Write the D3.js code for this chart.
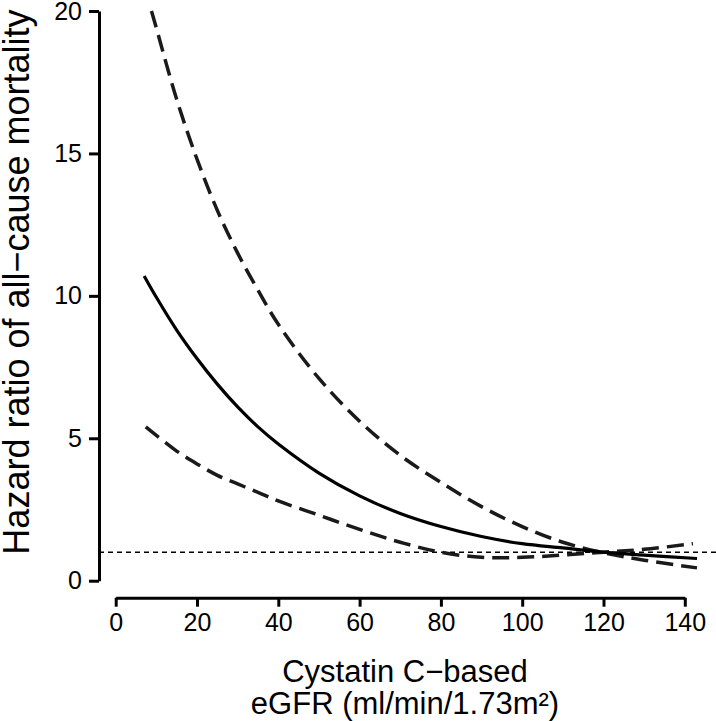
<!DOCTYPE html>
<html>
<head>
<meta charset="utf-8">
<script src="https://cdn.jsdelivr.net/npm/d3@7"></script>
<style>
  body { margin: 0; background: #fff; }
  text { font-family: "Liberation Sans", Arial, sans-serif; fill: #000; }
</style>
</head>
<body>
<div id="chart"></div>
<script>
// eGFR values (x) and hazard ratios
var hrX = [7, 10, 15, 20, 25, 30, 35, 40, 50, 60, 70, 80, 90, 100, 110, 120, 130, 143];
var hrY = [10.7, 9.95, 8.8, 7.8, 6.9, 6.1, 5.4, 4.8, 3.78, 2.98, 2.36, 1.9, 1.55, 1.3, 1.15, 1.0, 0.9, 0.78];

var upperX = [8.8, 10, 15, 20, 25, 30, 35, 40, 50, 60, 70, 80, 90, 100, 110, 120, 130, 143];
var upperY = [20, 19.4, 16.9, 14.8, 13.0, 11.5, 10.2, 9.0, 7.1, 5.6, 4.4, 3.45, 2.6, 1.9, 1.35, 0.98, 0.72, 0.45];

var lowerX = [7.4, 10, 15, 20, 25, 30, 35, 40, 50, 60, 70, 80, 90, 100, 110, 120, 130, 142];
var lowerY = [5.4, 5.1, 4.55, 4.1, 3.7, 3.4, 3.1, 2.8, 2.3, 1.8, 1.35, 1.0, 0.82, 0.82, 0.9, 1.0, 1.1, 1.3];

var xTicks = [0, 20, 40, 60, 80, 100, 120, 140];
var yTicks = [0, 5, 10, 15, 20];
var refValue = 1;

var svgWidth = 716;
var svgHeight = 721;

var svg = d3.select("#chart")
  .append("svg")
  .attr("width", svgWidth)
  .attr("height", svgHeight);

var xScale = d3.scaleLinear().domain([0, 140]).range([115.7, 684.8]);
var yScale = d3.scaleLinear().domain([0, 20]).range([580.7, 11]);

var yAxisX = 99;
var xAxisY = 597.7;

// axes
var leftAxis = d3.axisLeft(yScale)
  .tickValues(yTicks)
  .tickSizeInner(10)
  .tickSizeOuter(0)
  .tickPadding(7);

var bottomAxis = d3.axisBottom(xScale)
  .tickValues(xTicks)
  .tickSizeInner(9)
  .tickSizeOuter(0)
  .tickPadding(6.5);

var gy = svg.append("g")
  .attr("transform", `translate(${yAxisX},0)`)
  .call(leftAxis);

var gx = svg.append("g")
  .attr("transform", `translate(0,${xAxisY})`)
  .call(bottomAxis);

[gx, gy].forEach(function(g) {
  g.selectAll("path, line")
    .attr("stroke", "#000")
    .attr("stroke-width", 3);
  g.selectAll("text")
    .attr("fill", "#000")
    .style("font-size", "25px")
    .style("font-family", "'Liberation Sans', Arial, sans-serif");
});

// reference line at HR = 1
svg.append("line")
  .attr("x1", yAxisX)
  .attr("x2", svgWidth)
  .attr("y1", yScale(refValue))
  .attr("y2", yScale(refValue))
  .attr("stroke", "#000")
  .attr("stroke-width", 1.6)
  .attr("stroke-dasharray", "5,4");

var line = d3.line()
  .x(d => xScale(d[0]))
  .y(d => yScale(d[1]))
  .curve(d3.curveCatmullRom.alpha(0.5));

function pairs(xs, ys) {
  return xs.map((x, i) => [x, ys[i]]);
}

svg.append("path")
  .datum(pairs(upperX, upperY))
  .attr("d", line)
  .attr("fill", "none")
  .attr("stroke", "#1a1a1a")
  .attr("stroke-width", 3.5)
  .attr("stroke-dasharray", "17,8");

svg.append("path")
  .datum(pairs(lowerX, lowerY))
  .attr("d", line)
  .attr("fill", "none")
  .attr("stroke", "#1a1a1a")
  .attr("stroke-width", 3.5)
  .attr("stroke-dasharray", "17,8");

svg.append("path")
  .datum(pairs(hrX, hrY))
  .attr("d", line)
  .attr("fill", "none")
  .attr("stroke", "#000")
  .attr("stroke-width", 3.2);

// axis titles
svg.append("text")
  .attr("transform", "translate(29,282) rotate(-90)")
  .style("text-anchor", "middle")
  .style("font-size", "36px")
  .text("Hazard ratio of all\u2212cause mortality");

svg.append("text")
  .attr("x", 405)
  .attr("y", 682)
  .style("text-anchor", "middle")
  .style("font-size", "31px")
  .text("Cystatin C\u2212based");

svg.append("text")
  .attr("x", 405)
  .attr("y", 714)
  .style("text-anchor", "middle")
  .style("font-size", "31px")
  .text("eGFR (ml/min/1.73m\u00b2)");
</script>
</body>
</html>
